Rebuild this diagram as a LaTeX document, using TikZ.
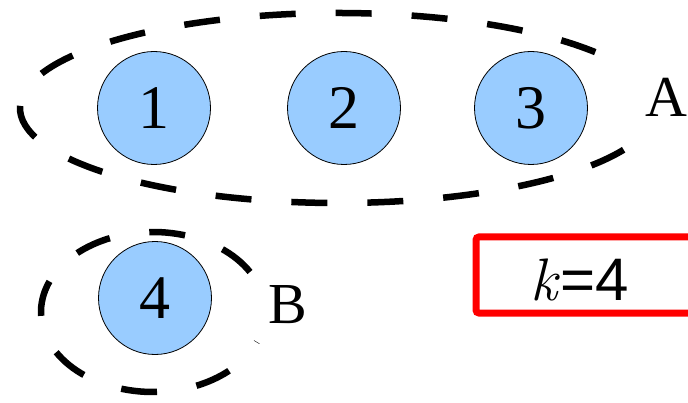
\documentclass[tikz,border=0pt]{standalone}
\usepackage{fontspec}
\setmainfont{Liberation Serif}
\newfontfamily\arialfont{Liberation Sans}
\newfontfamily\lmfont{Latin Modern Roman}
\usetikzlibrary{calc}
\begin{document}
\begin{tikzpicture}[x=1pt,y=1pt,
  ball/.style={circle,draw=black,line width=0.8pt,fill={rgb,255:red,153;green,204;blue,255},minimum size=113pt,inner sep=0pt,font=\fontsize{62}{62}\selectfont},
  grp/.style={draw=black,line width=6.5pt,dash pattern=on 36pt off 40pt},
  lbl/.style={inner sep=0pt,font=\fontsize{58}{58}\selectfont}]
\clip (0,0) rectangle (688,402);
\useasboundingbox (0,0) rectangle (688,402);
\node[ball] (n1) at (154,294) {1};
\node[ball] (n2) at (344,294) {2};
\node[ball] (n3) at (531,294) {3};
\node[ball] (n4) at (155,104) {4};
\coordinate (cA) at (338,294);
\coordinate (cB) at (153,90);
\draw[grp] ($(cA)+(36:318 and 95)$) arc[start angle=36, end angle=347, x radius=318, y radius=95];
\draw[grp] ($(cB)+(30:112 and 80)$) arc[start angle=30, end angle=338, x radius=112, y radius=80];
\node[lbl] (A) at (666,305) {A};
\node[lbl] (B) at (288,97) {B};
\draw[red,line width=7pt,rounded corners=3pt] (476,89) rectangle (710,165);
\node[lbl,font=\fontsize{60}{60}\selectfont] (k) at (580,122) {{\lmfont\itshape k}\kern3pt\arialfont=4};
\end{tikzpicture}
\end{document}
